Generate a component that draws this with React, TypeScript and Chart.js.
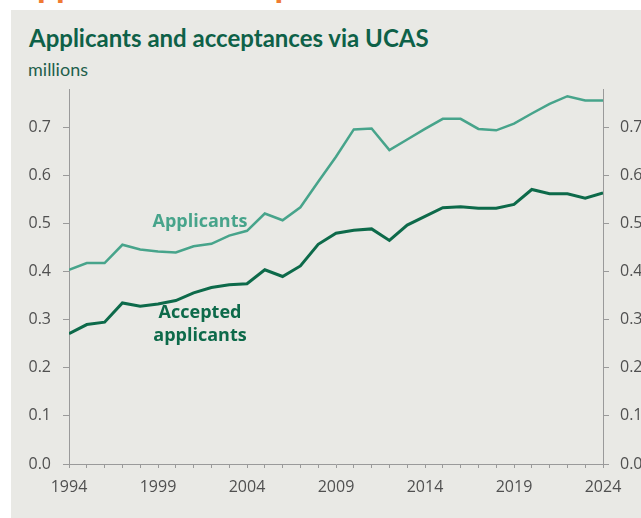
import React, { useEffect, useRef } from "react";
import { Chart, registerables } from "chart.js";

Chart.register(...registerables);

const years: number[] = [
  1994, 1995, 1996, 1997, 1998, 1999, 2000, 2001, 2002, 2003, 2004, 2005, 2006, 2007, 2008,
  2009, 2010, 2011, 2012, 2013, 2014, 2015, 2016, 2017, 2018, 2019, 2020, 2021, 2022, 2023, 2024,
];
const applicants: number[] = [
  0.404, 0.418, 0.418, 0.456, 0.446, 0.442, 0.44, 0.453, 0.458, 0.475, 0.485, 0.521, 0.507, 0.534,
  0.587, 0.639, 0.696, 0.698, 0.653, 0.675, 0.697, 0.718, 0.718, 0.697, 0.694, 0.708, 0.729,
  0.749, 0.765, 0.756, 0.756,
];
const accepted: number[] = [
  0.271, 0.29, 0.295, 0.335, 0.328, 0.333, 0.34, 0.356, 0.367, 0.373, 0.375, 0.404, 0.39, 0.412,
  0.457, 0.48, 0.486, 0.489, 0.465, 0.497, 0.515, 0.533, 0.535, 0.532, 0.532, 0.54, 0.571, 0.562,
  0.562, 0.553, 0.564,
];
const xLabelYears: number[] = [1994, 1999, 2004, 2009, 2014, 2019, 2024];
const yMin = 0;
const yMax = 0.78;

const TEAL = "#47a48b";
const DARK = "#0d6a4a";
const AXIS = "#9a9a9a";
const TICK_TEXT = "#505050";

const annotations = [
  { text: "Applicants", year: 2001.36, value: 0.504, color: TEAL },
  { text: "Accepted", year: 2001.36, value: 0.315, color: DARK },
  { text: "applicants", year: 2001.36, value: 0.267, color: DARK },
];

const labelPlugin = {
  id: "seriesLabels",
  afterDatasetsDraw(chart: any) {
    const { ctx } = chart;
    const xs = chart.scales.x;
    const ys = chart.scales.y;
    ctx.save();
    ctx.font = "bold 18px 'Open Sans'";
    ctx.textAlign = "center";
    ctx.textBaseline = "middle";
    for (const a of annotations) {
      ctx.fillStyle = a.color;
      ctx.fillText(a.text, xs.getPixelForValue(a.year), ys.getPixelForValue(a.value));
    }
    ctx.restore();
  },
};

export default function App() {
  const ref = useRef<HTMLCanvasElement | null>(null);

  useEffect(() => {
    if (!ref.current) return;
    const tickFont = { family: "'Open Sans'", size: 16 };
    const chart = new Chart(ref.current, {
      type: "line",
      data: {
        datasets: [
          {
            label: "Applicants",
            data: years.map((y, i) => ({ x: y, y: applicants[i] })),
            borderColor: TEAL,
            borderWidth: 2.5,
            pointRadius: 0,
            tension: 0,
          },
          {
            label: "Accepted applicants",
            data: years.map((y, i) => ({ x: y, y: accepted[i] })),
            borderColor: DARK,
            borderWidth: 3,
            pointRadius: 0,
            tension: 0,
          },
        ],
      },
      options: {
        animation: false,
        responsive: false,
        devicePixelRatio: 1,
        layout: { padding: { top: 89, left: 0, right: 0, bottom: 0 } },
        plugins: { legend: { display: false }, tooltip: { enabled: false } },
        scales: {
          x: {
            type: "linear",
            min: years[0],
            max: years[years.length - 1],
            border: { display: true, color: AXIS, width: 1 },
            grid: { drawOnChartArea: false, drawTicks: true, tickLength: 4, color: AXIS },
            ticks: {
              stepSize: 1,
              autoSkip: false,
              maxRotation: 0,
              padding: 10,
              color: TICK_TEXT,
              font: tickFont,
              callback: (v: any) => (xLabelYears.includes(Number(v)) ? String(v) : ""),
            },
            afterFit: (s: any) => {
              s.height = 54;
            },
          },
          y: {
            type: "linear",
            position: "left",
            min: yMin,
            max: yMax,
            border: { display: true, color: AXIS, width: 1 },
            grid: { drawOnChartArea: false, drawTicks: true, tickLength: 6, color: AXIS },
            ticks: {
              stepSize: 0.1,
              includeBounds: false,
              padding: 12,
              color: TICK_TEXT,
              font: tickFont,
              callback: (v: any) => Number(v).toFixed(1),
            },
            afterFit: (s: any) => {
              s.width = 69;
            },
          },
          y2: {
            type: "linear",
            position: "right",
            min: yMin,
            max: yMax,
            border: { display: true, color: AXIS, width: 1 },
            grid: { drawOnChartArea: false, drawTicks: true, tickLength: 6, color: AXIS },
            ticks: {
              stepSize: 0.1,
              includeBounds: false,
              padding: 11,
              color: TICK_TEXT,
              font: tickFont,
              callback: (v: any) => Number(v).toFixed(1),
            },
            afterFit: (s: any) => {
              s.width = 38;
            },
          },
        },
      },
      plugins: [labelPlugin],
    });
    return () => chart.destroy();
  }, []);

  return (
    <div
      style={{
        position: "absolute",
        left: 0,
        top: 0,
        width: 641,
        height: 518,
        background: "#ffffff",
        overflow: "hidden",
      }}
    >
      <div
        style={{
          position: "absolute",
          left: 16,
          top: -36,
          fontFamily: "'Open Sans'",
          fontWeight: 700,
          fontSize: 30,
          lineHeight: "normal",
          color: "#f07a32",
          whiteSpace: "nowrap",
        }}
      >
        Applications and places
      </div>
      <div
        style={{
          position: "absolute",
          left: 11,
          top: 10,
          width: 630,
          height: 508,
          background: "#e9e9e5",
        }}
      />
      <div
        style={{
          position: "absolute",
          left: 29,
          top: 23,
          fontFamily: "Lato",
          fontWeight: 700,
          fontSize: 24,
          color: "#0e6148",
          whiteSpace: "nowrap",
        }}
      >
        Applicants and acceptances via UCAS
      </div>
      <div
        style={{
          position: "absolute",
          left: 28,
          top: 58,
          fontFamily: "Lato",
          fontSize: 18,
          color: "#1f5f4c",
          whiteSpace: "nowrap",
        }}
      >
        millions
      </div>
      <canvas
        ref={ref}
        width={641}
        height={518}
        style={{ position: "absolute", left: 0, top: 0, width: 641, height: 518 }}
      />
    </div>
  );
}
